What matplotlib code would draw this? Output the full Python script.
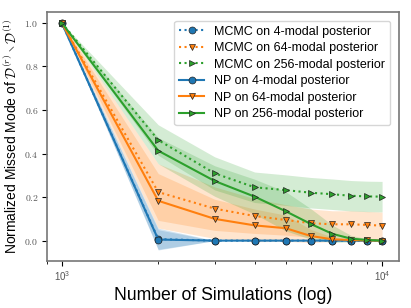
import numpy as np
import matplotlib
matplotlib.use("Agg")
import matplotlib.pyplot as plt
from matplotlib.ticker import FuncFormatter

plt.rcParams['mathtext.fontset'] = 'cm'
plt.rcParams['font.family'] = ['Liberation Sans', 'DejaVu Sans']

sims = [1000, 2000, 3000, 4000, 5000, 6000, 7000, 8000, 9000, 10000]

# mean missed-mode fraction
mcmc_4 = [1.0, 0.007, 0.0, 0.0, 0.0, 0.0, 0.0, 0.0, 0.0, 0.0]
mcmc_64 = [1.0, 0.223, 0.147, 0.113, 0.095, 0.080, 0.075, 0.075, 0.072, 0.069]
mcmc_256 = [1.0, 0.462, 0.309, 0.245, 0.232, 0.220, 0.213, 0.206, 0.203, 0.202]
np_4 = [1.0, 0.005, 0.0, 0.0, 0.0, 0.0, 0.0, 0.0, 0.0, 0.0]
np_64 = [1.0, 0.183, 0.100, 0.070, 0.057, 0.021, 0.006, 0.003, 0.001, 0.0]
np_256 = [1.0, 0.413, 0.274, 0.202, 0.135, 0.076, 0.031, 0.009, 0.003, 0.0]

# std for the shaded bands
mcmc_4_sd = [0.0, 0.05, 0.0, 0.0, 0.0, 0.0, 0.0, 0.0, 0.0, 0.0]
mcmc_64_sd = [0.0, 0.13, 0.10, 0.08, 0.07, 0.065, 0.062, 0.062, 0.062, 0.062]
mcmc_256_sd = [0.0, 0.07, 0.076, 0.07, 0.07, 0.07, 0.07, 0.07, 0.07, 0.07]
np_4_sd = [0.0, 0.045, 0.0, 0.0, 0.0, 0.0, 0.0, 0.0, 0.0, 0.0]
np_64_sd = [0.0, 0.125, 0.09, 0.075, 0.06, 0.03, 0.01, 0.005, 0.002, 0.0]
np_256_sd = [0.0, 0.06, 0.07, 0.08, 0.09, 0.07, 0.04, 0.015, 0.005, 0.0]

c_blue, c_orange, c_green = '#1f77b4', '#ff7f0e', '#2ca02c'

fig = plt.figure(figsize=(4.11, 3.08), dpi=100)
ax = fig.add_axes([0.114, 0.153, 0.857, 0.808])

series = [
    (mcmc_4, mcmc_4_sd, c_blue, 'o', ':', 'MCMC on 4-modal posterior'),
    (mcmc_64, mcmc_64_sd, c_orange, 'v', ':', 'MCMC on 64-modal posterior'),
    (mcmc_256, mcmc_256_sd, c_green, '>', ':', 'MCMC on 256-modal posterior'),
    (np_4, np_4_sd, c_blue, 'o', '-', 'NP on 4-modal posterior'),
    (np_64, np_64_sd, c_orange, 'v', '-', 'NP on 64-modal posterior'),
    (np_256, np_256_sd, c_green, '>', '-', 'NP on 256-modal posterior'),
]

for m, s, c, mk, ls, lab in series:
    m = np.array(m)
    s = np.array(s)
    ax.fill_between(sims, m - s, m + s, color=c, alpha=0.2, lw=0)
    ax.plot(sims, m, color=c, ls=ls, lw=1.5, marker=mk, ms=5,
            mec='#222222', mew=0.5, label=lab)

ax.set_xscale('log')
ax.set_xlim(898, 11300)
ax.set_ylim(-0.093, 1.05)
ax.set_yticks([0.0, 0.2, 0.4, 0.6, 0.8, 1.0])
ax.yaxis.set_major_formatter(FuncFormatter(lambda v, p: r'$%.1f$' % v))
ax.tick_params(labelsize=7, labelcolor='#555555', length=3.5, width=0.8, pad=2.5)
ax.tick_params(which='minor', length=1.8, width=0.6)
for sp in ax.spines.values():
    sp.set_color('#777777')
    sp.set_linewidth(1.2)

ax.set_xlabel('Number of Simulations (log)', fontsize=12.7, labelpad=3)
ax.set_ylabel(r'Normalized Missed Mode of $\mathcal{D}^{(r)} \setminus \mathcal{D}^{(1)}$',
              fontsize=10, labelpad=3)
ax.legend(loc='upper right', fontsize=9, framealpha=0.8, handlelength=2.0,
          labelspacing=0.36, borderaxespad=0.7)

fig.savefig('out.png', dpi=100)
